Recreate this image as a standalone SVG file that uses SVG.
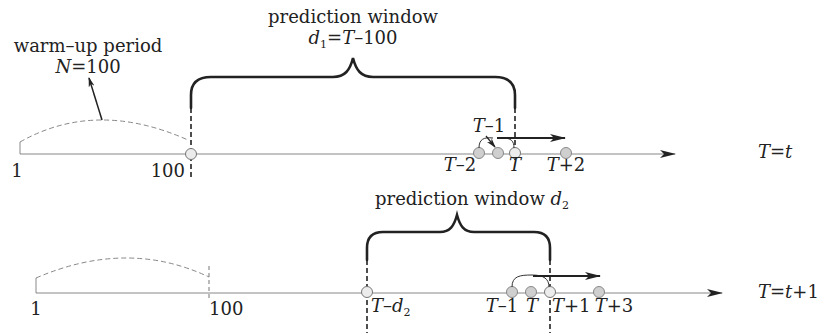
<svg xmlns="http://www.w3.org/2000/svg" width="818" height="333" viewBox="0 0 818 333">
<defs>
<marker id="ah" viewBox="0 0 16 8" refX="15" refY="4" markerWidth="16" markerHeight="8" markerUnits="userSpaceOnUse" orient="auto">
<path d="M0,0 L16,4 L0,8 L4,4 Z" fill="#222"/>
</marker>
<marker id="ahs" viewBox="0 0 10 6" refX="9" refY="3" markerWidth="10" markerHeight="6" markerUnits="userSpaceOnUse" orient="auto">
<path d="M0,0 L10,3 L0,6 L3,3 Z" fill="#222"/>
</marker>
<style>
text{font-family:"DejaVu Serif","Liberation Serif",serif;font-size:18px;fill:#222}
.i{font-style:italic}
.sub{font-size:11px}
.axis{stroke:#888;stroke-width:1.2;fill:none}
.tick{stroke:#888;stroke-width:1;fill:none}
.warm{stroke:#888;stroke-width:1;fill:none;stroke-dasharray:5,3}
.brace{stroke:#222;stroke-width:2.6;fill:none;stroke-linecap:round}
.dash{stroke:#222;stroke-width:1.6;fill:none;stroke-dasharray:5,3}
.dthin{stroke:#777;stroke-width:1;fill:none;stroke-dasharray:4,3}
.pt{fill:#cfcfcf;stroke:#888;stroke-width:1}
.pl{fill:#ececec;stroke:#777;stroke-width:1}
.arc{stroke:#333;stroke-width:1;fill:none}
.harr{stroke:#222;stroke-width:1.8;fill:none}
</style>
</defs>

<g id="top-timeline">
<path class="axis" d="M20,154 L675,154" marker-end="url(#ah)"/>
<path class="tick" d="M20,154 L20,142"/>
<path class="warm" d="M20,142 Q96,99 188,140"/>
<text x="17" y="177" text-anchor="middle">1</text>
<text x="185" y="177" text-anchor="end">100</text>
<text x="758" y="158"><tspan class="i">T</tspan>=<tspan class="i">t</tspan></text>
</g>

<g id="warmup-label">
<text x="88" y="52" text-anchor="middle">warm–up period</text>
<text x="88" y="73" text-anchor="middle"><tspan class="i">N</tspan>=100</text>
</g>

<g id="window1">
<path class="brace" d="M191,108 L191,95 Q191,77 211,77 L333,77 C345,77 350,70 353,58 C356,70 361,77 373,77 L495,77 Q515,77 515,95 L515,108"/>
<path class="dash" d="M191,108 L191,178"/>
<path class="dash" d="M515,108 L515,160"/>
<text x="353" y="23" text-anchor="middle">prediction window</text>
<text x="353" y="44" text-anchor="middle"><tspan class="i">d</tspan><tspan class="sub" dy="4">1</tspan><tspan dy="-4">=</tspan><tspan class="i">T</tspan>–100</text>
</g>

<g id="top-points">
<circle class="pl" cx="191" cy="154" r="5.5"/>
<circle class="pt" cx="479" cy="153" r="5.5"/>
<circle class="pt" cx="498" cy="153" r="5.5"/>
<circle class="pl" cx="515" cy="153" r="5.5"/>
<circle class="pt" cx="566" cy="153" r="5.5"/>
<text x="489" y="132" text-anchor="middle"><tspan class="i">T</tspan>–1</text>
<text x="460" y="171" text-anchor="middle"><tspan class="i">T</tspan>–2</text>
<text x="515" y="171" text-anchor="middle" class="i">T</text>
<text x="566" y="171" text-anchor="middle"><tspan class="i">T</tspan>+2</text>
</g>

<g id="bottom-timeline">
<path class="axis" d="M36,293 L722,293" marker-end="url(#ah)"/>
<path class="tick" d="M36,293 L36,278"/>
<path class="warm" d="M36,278 Q127.5,238.5 209,277"/>
<path class="dthin" d="M209,266 L209,300"/>
<text x="36" y="315" text-anchor="middle">1</text>
<text x="209" y="315">100</text>
<text x="758" y="298"><tspan class="i">T</tspan>=<tspan class="i">t</tspan>+1</text>
</g>

<g id="window2">
<path class="brace" d="M367,260 L367,248 Q367,232 383,232 L440,232 C450,232 454,226 457,215 C460,226 464,232 474,232 L534,232 Q550,232 550,248 L550,260"/>
<path class="dash" d="M367,260 L367,333"/>
<path class="dash" d="M550,260 L550,333"/>
<text x="375" y="205">prediction window <tspan class="i">d</tspan><tspan class="sub" dy="4">2</tspan></text>
</g>

<g id="bottom-points">
<circle class="pl" cx="367" cy="292" r="5.5"/>
<circle class="pt" cx="512" cy="292" r="5.5"/>
<circle class="pt" cx="531" cy="292" r="5.5"/>
<circle class="pl" cx="550" cy="292" r="5.5"/>
<circle class="pt" cx="599" cy="292" r="5.5"/>
<text x="371" y="312"><tspan class="i">T</tspan>–<tspan class="i">d</tspan><tspan class="sub" dy="4">2</tspan></text>
<text x="502" y="312" text-anchor="middle"><tspan class="i">T</tspan>–1</text>
<text x="532" y="312" text-anchor="middle" class="i">T</text>
<text x="552" y="312"><tspan class="i">T</tspan>+1</text>
<text x="614" y="312" text-anchor="middle"><tspan class="i">T</tspan>+3</text>
</g>

<g id="connectors">
<path d="M102,120 L89,78" stroke="#222" stroke-width="1.5" fill="none" marker-end="url(#ahs)"/>
<path class="arc" d="M479,148 C479,139 484,137 493,138"/>
<path class="arc" d="M503,138 C511,138 514,141 514,148"/>
<path d="M486,136 L495,147" stroke="#222" stroke-width="1.2" fill="none" marker-end="url(#ahs)"/>
<path class="harr" d="M497,138 L565,138" marker-end="url(#ah)"/>
<path class="arc" d="M512,287 C512,276 520,275 532,275 C544,275 549,279 549,287"/>
<path class="harr" d="M533,276 L600,276" marker-end="url(#ah)"/>
</g>
</svg>
